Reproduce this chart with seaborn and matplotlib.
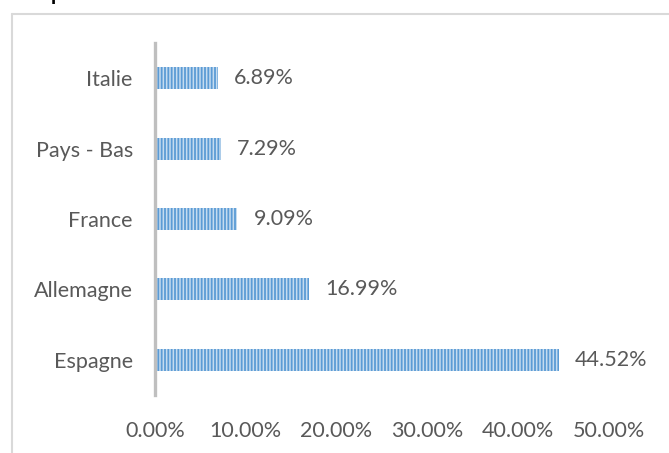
import matplotlib
matplotlib.use("Agg")
import matplotlib.pyplot as plt
from matplotlib.lines import Line2D
import seaborn as sns
import pandas as pd

countries = ["Italie", "Pays - Bas", "France", "Allemagne", "Espagne"]
shares = [0.0689, 0.0729, 0.0909, 0.1699, 0.4452]
xticks = [0.0, 0.1, 0.2, 0.3, 0.4, 0.5]
xtick_labels = ["0.00%", "10.00%", "20.00%", "30.00%", "40.00%", "50.00%"]

sns.set_theme(style="white")
plt.rcParams["font.family"] = ["Lato", "DejaVu Sans"]
plt.rcParams["hatch.linewidth"] = 1.3

W, H = 669, 453
fig = plt.figure(figsize=(W / 100, H / 100), dpi=100)
ax = fig.add_axes([155 / W, (H - 395) / H, 453.7 / W, 352 / H])

df = pd.DataFrame({"country": countries, "share": shares})
sns.barplot(data=df, x="share", y="country", order=countries, ax=ax,
            color="#BDD7EE", width=0.31, linewidth=0, edgecolor="#5B9BD5")
for p in ax.patches:
    p.set_hatch("|||||")
    p.set_edgecolor("#5B9BD5")
    p.set_facecolor("#C5DCF0")
    p.set_linewidth(0)

txt = "#595959"
fs = 15.5
for i, v in enumerate(shares):
    ax.annotate(f"{v*100:.2f}%", xy=(v, i), xytext=(16, 0), textcoords="offset pixels",
                ha="left", va="center", fontsize=fs, color=txt)

ax.set_xlim(0, 0.5)
ax.set_ylim(4.5, -0.5)
ax.set_xticks(xticks)
ax.set_xticklabels(xtick_labels)
ax.set_xlabel("")
ax.set_ylabel("")
ax.tick_params(axis="x", length=0, pad=19, labelsize=fs, labelcolor=txt)
ax.tick_params(axis="y", length=0, pad=16, labelsize=fs, labelcolor=txt)
for s in ["top", "right", "bottom"]:
    ax.spines[s].set_visible(False)
ax.spines["left"].set_color("#BFBFBF")
ax.spines["left"].set_linewidth(2.4)
ax.patch.set_alpha(0)

# chart frame (partially cropped)
bc = "#D9D9D9"
fig.add_artist(Line2D([11.5 / W, 1.05], [1 - 14 / H, 1 - 14 / H], color=bc, lw=1.5,
                      transform=fig.transFigure))
fig.add_artist(Line2D([11.5 / W, 11.5 / W], [1 - 14 / H, -0.05], color=bc, lw=1.5,
                      transform=fig.transFigure))
# cropped title remnant
fig.text(51 / W, 1.0 - 0.5 / H, "p", ha="left", va="baseline", fontsize=15,
         fontweight="bold", color="black")

fig.savefig("out.png", dpi=100)
